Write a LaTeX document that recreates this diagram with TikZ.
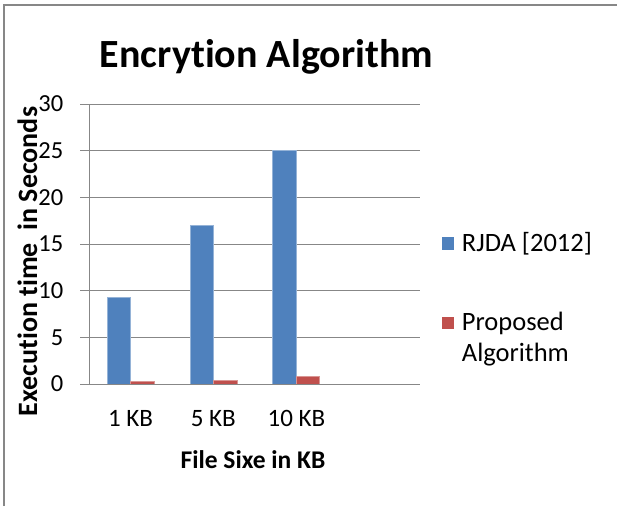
\documentclass[tikz,border=0pt]{standalone}
\usepackage{fontspec}
\setmainfont{Carlito}[Ligatures=NoCommon]
\definecolor{seriesA}{HTML}{4F81BD}
\definecolor{seriesB}{HTML}{C0504D}
\definecolor{gridgray}{HTML}{878787}
\begin{document}
\begin{tikzpicture}[x=1pt,y=-1pt,
  grid/.style={draw=gridgray,line width=1pt},
  frame/.style={draw=gridgray,line width=2pt},
  tick/.style={font=\fontsize{24.5}{26}\selectfont,anchor=east,inner sep=0pt},
  cat/.style={font=\fontsize{25}{28}\selectfont,anchor=base,inner sep=0pt},
  axtitle/.style={font=\fontsize{25.5}{28}\selectfont\bfseries,anchor=base,inner sep=0pt},
  legtext/.style={font=\fontsize{26.5}{31}\selectfont,anchor=base west,inner sep=0pt},
  barA/.style={fill=seriesA,draw=seriesA!60!white,line width=0.6pt},
  barB/.style={fill=seriesB,draw=seriesB!60!white,line width=0.6pt}]
\useasboundingbox (0,0) rectangle (617,506);
% chart border (top and left edges)
\draw[frame] (4,506) -- (4,5) -- (617,5);
% title
\node[font=\fontsize{40}{46}\selectfont\bfseries,anchor=base,inner sep=0pt] (title) at (266.5,67.7) {Encrytion Algorithm};
% horizontal gridlines and value labels
\foreach \v [count=\i] in {0,5,10,15,20,25,30} {
  \draw[grid] (80,{384-\v*9.333}) -- (420,{384-\v*9.333});
  \node[tick] (yl\i) at (63.5,{384-\v*9.333}) {\v};
}
% vertical axis
\draw[grid] (89.3,104) -- (89.3,384);
% bars: series A (blue) and series B (red)
\foreach \c/\a/\b in {130.6/9.3/0.32, 213.3/17/0.45, 296/25/0.86} {
  \fill[barA] ({\c-23.5},384) rectangle (\c,{384-\a*9.333});
  \fill[barB] (\c,384) rectangle ({\c+23.5},{384-\b*9.333});
}
\draw[grid] (80,384) -- (420,384);
% category labels
\node[cat] (c1) at (130.6,426.5) {1 KB};
\node[cat] (c2) at (213.3,426.5) {5 KB};
\node[cat] (c3) at (296.5,426.5) {10 KB};
% axis titles
\node[axtitle] (xt) at (253,468) {File Sixe in KB};
\node[font=\fontsize{28}{30}\selectfont\bfseries,anchor=base,inner sep=0pt,rotate=90] (yt) at (37,261.5) {Execution time\ \ in Seconds};
% legend
\fill[seriesA] (441.5,237) rectangle (454,249.5);
\node[legtext] (lA) at (461.7,251.5) {RJDA [2012]};
\fill[seriesB] (441.5,316.5) rectangle (454,329);
\node[legtext] (lB1) at (461.7,330.7) {Proposed};
\node[legtext] (lB2) at (461.7,361.7) {Algorithm};
\end{tikzpicture}
\end{document}
